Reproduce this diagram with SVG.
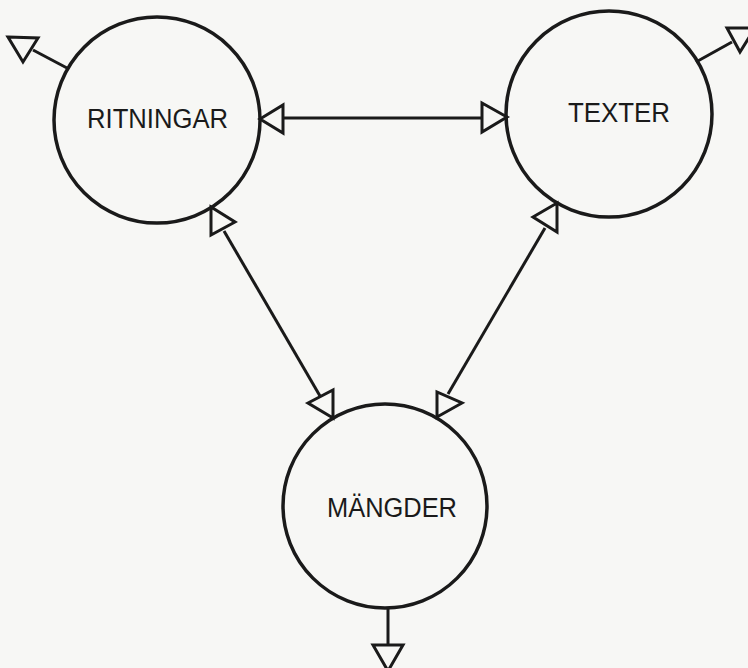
<svg xmlns="http://www.w3.org/2000/svg" width="748" height="668" viewBox="0 0 748 668">
<style>
.bg{fill:#f7f7f5}
.node{fill:none;stroke:#1a1a1a;stroke-width:3.5}
.lbl{font-family:"Liberation Sans",Arial,sans-serif;font-size:27px;fill:#1a1a1a;text-anchor:middle}
.ln{stroke:#1a1a1a;stroke-width:3;fill:none}
.ah{fill:#f7f7f5;stroke:#1a1a1a;stroke-width:3;stroke-linejoin:miter}
</style>
<rect class="bg" x="0" y="0" width="748" height="668"/>
<g id="connectors">
  <line class="ln" x1="283" y1="118" x2="482" y2="118"/>
  <polygon class="ah" points="260,119 283,105 283,133"/>
  <polygon class="ah" points="507,117 482,103 482,132"/>
  <line class="ln" x1="224" y1="231" x2="320" y2="396"/>
  <polygon class="ah" points="211,207 211,235 235,222"/>
  <polygon class="ah" points="333,418 308,403 333,390"/>
  <line class="ln" x1="545" y1="228" x2="448" y2="394"/>
  <polygon class="ah" points="557,203 557,232 533,217"/>
  <polygon class="ah" points="437,417 437,392 462,403"/>
  <line class="ln" x1="67" y1="68" x2="33" y2="50"/>
  <polygon class="ah" points="8,37 38,38 23,62"/>
  <line class="ln" x1="696" y1="62" x2="732" y2="42"/>
  <polygon class="ah" points="727,28 755,28 740,52"/>
  <line class="ln" x1="388" y1="608" x2="388" y2="645"/>
  <polygon class="ah" points="373,645 403,645 388,671"/>
</g>
<g id="ritningar">
  <circle class="node" cx="157" cy="120" r="103"/>
  <text class="lbl" x="157.5" y="128" textLength="141" lengthAdjust="spacingAndGlyphs">RITNINGAR</text>
</g>
<g id="texter">
  <circle class="node" cx="609" cy="114" r="103"/>
  <text class="lbl" x="619" y="122" textLength="102" lengthAdjust="spacingAndGlyphs">TEXTER</text>
</g>
<g id="mangder">
  <circle class="node" cx="385" cy="506" r="102"/>
  <text class="lbl" x="392" y="517" textLength="130" lengthAdjust="spacingAndGlyphs">MÄNGDER</text>
</g>
</svg>
